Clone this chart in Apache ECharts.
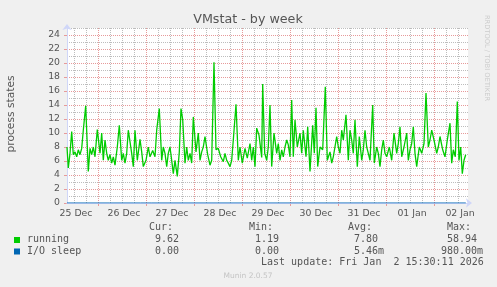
<!DOCTYPE html>
<html><head><meta charset="utf-8">
<script src="https://cdn.jsdelivr.net/npm/echarts@6/dist/echarts.min.js"></script>
<style>html,body{margin:0;padding:0;background:#f0f0f0;}#c{width:497px;height:287px;}</style>
</head><body><div id="c"></div>
<script>
const chartTitle = 'VMstat - by week';
const yAxisName = 'process states';
const dayLabels = ['25 Dec','26 Dec','27 Dec','28 Dec','29 Dec','30 Dec','31 Dec','01 Jan','02 Jan'];
const seriesNames = ['running', 'I/O sleep'];
const seriesColors = ['#00cc00', '#0066b3'];
const colHeaders = ['Cur:', 'Min:', 'Avg:', 'Max:'];
const runningStats = ['9.62', '1.19', '7.80', '58.94'];
const ioSleepStats = ['0.00', '0.00', '5.46m', '980.00m'];
const lastUpdate = 'Last update: Fri Jan  2 15:30:11 2026';
const version = 'Munin 2.0.57';
const sideText = 'RRDTOOL / TOBI OETIKER';

// hours since left edge of the graph
const hours = [0,0.65,1.5,2.35,3.15,4.0,4.85,5.65,6.5,7.35,8.15,9.35,10.65,11.5,12.35,13.15,14.0,15.15,16.5,17.35,
18.15,19.0,19.85,20.65,21.5,22.35,23.15,24.0,25.15,26.15,27.35,28.15,29.0,29.85,30.65,31.5,32.35,33.15,34.0,35.15,
36.5,37.35,38.15,39.5,40.65,41.5,42.85,44.0,44.85,46.15,47.35,48.15,49.0,49.85,50.65,51.5,52.35,53.15,54.0,55.15,
56.15,57.0,57.85,59.0,59.85,60.65,61.5,62.35,63.15,64.5,65.65,66.5,67.35,68.15,69.0,70.35,71.5,72.35,73.5,74.5,
75.65,76.85,78.15,79.0,79.85,80.65,81.5,82.35,83.15,84.5,85.65,86.5,87.65,89.0,90.15,91.5,92.35,93.15,94.0,94.85,
96.0,97.35,97.85,98.85,99.85,100.65,101.5,102.35,103.5,104.85,105.65,106.5,107.35,108.15,109.0,109.85,110.65,111.5,112.35,113.15,
114.0,115.15,116.5,117.35,118.15,119.5,120.35,121.5,122.85,123.65,124.5,125.35,126.5,127.85,129.15,130.15,131.5,132.35,133.15,134.85,
135.65,136.5,137.35,138.15,139.5,140.65,141.5,142.35,143.15,144.0,145.15,146.15,147.35,148.15,149.0,149.85,150.65,151.5,152.85,153.65,
154.85,155.65,156.5,157.35,158.15,159.0,159.85,161.15,162.35,163.5,164.85,165.65,166.5,167.35,168.5,169.85,170.65,171.5,172.35,173.15,
174.0,174.85,176.15,177.35,178.5,179.5,180.65,181.5,182.35,183.5,184.85,185.65,186.5,187.85,189.0,190.15,191.5,192.35,193.15,194.15,
195.15,196.0,196.85,197.65,198.5,199.35];
const running = [8.0,5.0,7.1,10.2,6.9,7.3,6.6,7.6,6.9,7.8,10.4,13.9,4.5,7.8,6.9,8.0,6.6,10.5,7.1,10.0,
6.1,9.0,7.1,6.1,6.9,5.7,6.6,5.4,8.0,11.1,6.1,7.1,5.7,7.1,10.4,10.2,7.1,5.2,10.4,6.1,
9.1,7.3,5.2,6.1,8.0,6.6,7.5,6.6,10.4,13.5,6.1,8.0,7.1,5.2,7.1,8.0,6.1,4.2,6.1,3.8,
7.3,13.5,11.9,5.7,8.0,6.1,7.1,5.7,12.3,7.3,10.0,6.1,7.3,8.0,9.5,6.9,5.4,6.1,20.1,7.6,
7.8,6.6,5.9,7.1,6.1,5.7,5.2,6.1,9.0,14.1,6.1,8.0,5.7,7.8,6.4,8.5,6.1,8.0,5.2,10.7,
9.7,6.5,17.0,7.1,6.1,8.0,14.0,5.2,10.0,7.1,8.5,6.1,7.6,6.6,8.0,9.0,8.3,6.6,14.7,6.6,
11.9,8.0,10.0,7.1,10.4,6.6,10.9,4.5,11.1,7.1,13.6,5.2,8.0,7.6,16.6,6.1,7.3,5.7,6.6,9.5,
8.0,7.1,10.4,9.0,12.6,6.1,10.4,9.0,7.1,11.9,5.2,9.5,6.1,7.6,10.4,8.0,7.1,6.1,14.0,5.7,
8.0,7.1,5.2,7.6,9.0,7.1,6.6,8.0,6.1,10.0,7.1,8.5,10.9,6.6,8.0,10.0,6.1,7.6,8.5,10.9,
7.1,5.2,8.0,7.1,8.5,15.7,8.0,9.0,10.4,9.0,7.1,8.0,9.5,7.6,6.6,9.0,11.4,5.7,7.6,6.6,
14.5,6.1,8.0,4.2,6.1,6.9];
const ioHours = [0,16,16.5,17,21.4,21.9,22.4,33.4,33.9,34.4,36.7,37.2,37.7,42.4,42.9,43.4,93.2,93.7,94.2,
119.4,119.9,120.4,123.7,124.2,124.7,129.7,130.2,130.7,155.4,155.9,156.4,159,159.5,160,196.4,196.9,197.4,199.4];
const ioSleep = [0,0,0.15,0,0,0.15,0,0,0.15,0,0,0.15,0,0,0.15,0,0,0.15,0,
0,0.15,0,0,0.15,0,0,0.15,0,0,0.15,0,0,0.15,0,0,0.15,0,0];

const FONT = 'DejaVu Sans';
const MONO = 'DejaVu Sans Mono';
const TXT = '#555555';
const MINOR = '#bdbdbd';
const MAJOR = '#e79a9a';

const runningData = hours.map((h, i) => [h, running[i]]);
const ioData = ioHours.map((h, i) => [h, ioSleep[i]]);

const gTop = 28, gH = 175;

const graphic = [];
graphic.push({ type: 'rect', z: -100, silent: true, shape: { x: 67, y: gTop, width: 401, height: gH }, style: { fill: '#ffffff' } });
function txt(x, y, s, o) {
  graphic.push(Object.assign({ type: 'text', x: x, y: y, silent: true,
    style: Object.assign({ text: s, fill: TXT, font: '10px ' + MONO, align: 'left', verticalAlign: 'middle' }, o && o.style || {}) },
    o && o.rotation != null ? { rotation: o.rotation } : {}));
}
txt(248, 19.5, chartTitle, { style: { font: '12.7px ' + FONT, align: 'center' } });
txt(11, 114, yAxisName, { rotation: Math.PI / 2, style: { font: '10.7px ' + FONT, align: 'center' } });
txt(487, 58, sideText, { rotation: -Math.PI / 2, style: { font: '6.7px ' + FONT, align: 'center', fill: '#cccccc' } });
const headX = [149, 249, 348, 447];
colHeaders.forEach((h, i) => txt(headX[i], 227.8, h));
graphic.push({ type: 'rect', shape: { x: 14, y: 237, width: 6, height: 6 }, style: { fill: seriesColors[0] } });
graphic.push({ type: 'rect', shape: { x: 14, y: 248.5, width: 6, height: 6 }, style: { fill: seriesColors[1] } });
txt(27, 239.5, seriesNames[0]);
txt(27, 251.2, seriesNames[1]);
const runX = [155, 255, 354, 447];
runningStats.forEach((v, i) => txt(runX[i], 239.5, v));
const ioX = [155, 255, 354, 441];
ioSleepStats.forEach((v, i) => txt(ioX[i], 251.2, v));
txt(261, 262.9, lastUpdate);
txt(248, 276.2, version, { style: { font: '7.5px ' + FONT, align: 'center', fill: '#c4c4c4' } });

const chart = echarts.init(document.getElementById('c'), null, { renderer: 'canvas' });
chart.setOption({
  animation: false,
  backgroundColor: '#f0f0f0',
  grid: [
    { left: 67, top: gTop, width: 401, height: gH },
    { left: 28, top: gTop, width: 432, height: gH },
    { left: 98, top: gTop, width: 336, height: gH },
    { left: 74, top: gTop, width: 384, height: gH },
    { left: 67, top: 35, width: 401, height: 168 },
    { left: 67, top: gTop, width: 401, height: gH }
  ],
  xAxis: [
    { gridIndex: 0, type: 'value', min: 0, max: 200.5, z: 6,
      axisLine: { show: true, lineStyle: { color: '#cfd6f8', width: 1 }, symbol: ['none', 'arrow'], symbolSize: [7, 6], symbolOffset: [0, 4] },
      axisTick: { show: false }, axisLabel: { show: false }, splitLine: { show: false } },
    { gridIndex: 1, type: 'value', min: 0, max: 216, interval: 24,
      axisLine: { show: false }, axisTick: { show: false }, splitLine: { show: false },
      axisLabel: { show: true, interval: 0, showMinLabel: true, showMaxLabel: true, margin: 6, color: TXT,
        fontFamily: FONT, fontSize: 9.33,
        formatter: v => { const i = Math.round(v / 24) - 1; return i >= 0 && i < dayLabels.length ? dayLabels[i] : ''; } } },
    { gridIndex: 2, type: 'value', min: 0, max: 168, interval: 24, z: 4,
      axisLine: { show: false }, axisLabel: { show: false },
      axisTick: { show: true, length: 3, lineStyle: { color: MAJOR } },
      splitLine: { show: true, lineStyle: { color: MAJOR, type: [1, 1], width: 1 } } },
    { gridIndex: 3, type: 'value', min: 0, max: 192, interval: 6, z: 3,
      axisLine: { show: false }, axisLabel: { show: false },
      axisTick: { show: false },
      splitLine: { show: true, lineStyle: { color: MINOR, type: [1, 1], width: 1 } } },
    { gridIndex: 4, type: 'value', show: false, min: 0, max: 1 },
    { gridIndex: 5, type: 'value', show: false, min: 0, max: 1 }
  ],
  yAxis: [
    { gridIndex: 0, type: 'value', min: 0, max: 25, z: 6,
      axisLine: { show: true, lineStyle: { color: '#cfd6f8', width: 1 }, symbol: ['none', 'arrow'], symbolSize: [7, 6], symbolOffset: [0, 4] },
      axisTick: { show: false }, axisLabel: { show: false }, splitLine: { show: false } },
    { gridIndex: 1, type: 'value', show: false, min: 0, max: 1 },
    { gridIndex: 2, type: 'value', show: false, min: 0, max: 1 },
    { gridIndex: 3, type: 'value', show: false, min: 0, max: 1 },
    { gridIndex: 4, type: 'value', min: 0, max: 24, interval: 2, z: 4,
      axisLine: { show: false },
      axisTick: { show: true, length: 3, lineStyle: { color: MAJOR } },
      axisLabel: { show: true, margin: 7, color: TXT, fontFamily: FONT, fontSize: 9.33 },
      splitLine: { show: true, lineStyle: { color: MAJOR, type: [1, 1], width: 1 } } },
    { gridIndex: 5, type: 'value', min: 0, max: 25, interval: 1, z: 3,
      axisLine: { show: false }, axisLabel: { show: false },
      axisTick: { show: false },
      splitLine: { show: true, lineStyle: { color: MINOR, type: [1, 1], width: 1 } } }
  ],
  series: [
    { name: seriesNames[0], type: 'line', xAxisIndex: 0, yAxisIndex: 0, data: runningData, showSymbol: false,
      lineStyle: { color: seriesColors[0], width: 1.3 }, z: 10, silent: true },
    { name: seriesNames[1], type: 'line', xAxisIndex: 0, yAxisIndex: 0, data: ioData, showSymbol: false,
      lineStyle: { color: seriesColors[1], width: 1 }, z: 11, silent: true }
  ],
  graphic: graphic
});
</script></body></html>
